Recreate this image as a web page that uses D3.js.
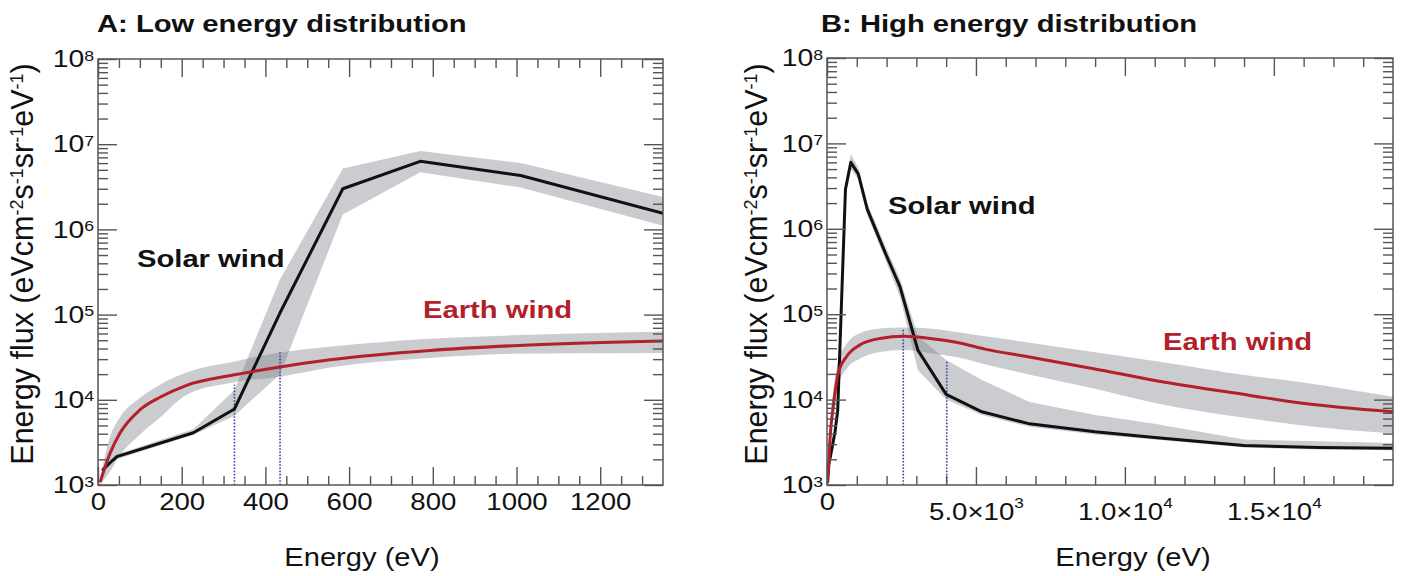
<!DOCTYPE html>
<html><head><meta charset="utf-8">
<script src="https://cdn.jsdelivr.net/npm/d3@7"></script>
<style>body{margin:0;background:#fff}svg text{font-family:"Liberation Sans",Arial,Helvetica,sans-serif}</style>
</head><body><script>
// ---------- DATA ----------
// Panel A: low energy distribution
const aSolarE  = [10, 35, 45, 228, 326, 435, 585, 770, 1010, 1350];
const aSolarV  = [1480, 1950, 2150, 4100, 7800, 1.05e5, 3.0e6, 6.3e6, 4.3e6, 1.55e6];
const aSolarLo = [1400, 1850, 2000, 3900, 6500, 2.0e4, 1.5e6, 4.7e6, 3.1e6, 1.1e6];
const aSolarHi = [1560, 2050, 2300, 4500, 1.3e4, 2.6e5, 5.2e6, 8.3e6, 6.0e6, 2.4e6];
const aEarthE  = [5, 29, 53, 100, 148, 212, 323, 435, 554, 793, 1032, 1350];
const aEarthV  = [1080, 2370, 4100, 7600, 1.07e4, 1.48e4, 1.95e4, 2.43e4, 2.95e4, 3.8e4, 4.4e4, 4.9e4];
const aEarthLo = [1000, 1450, 2250, 3900, 6200, 1.15e4, 1.6e4, 1.87e4, 2.4e4, 3.1e4, 3.5e4, 3.55e4];
const aEarthHi = [1200, 3700, 6300, 1.05e4, 1.5e4, 2.1e4, 2.8e4, 3.6e4, 4.2e4, 5.2e4, 5.8e4, 6.3e4];
const aDotE    = [326, 435];
const aDotTop  = [1.5e4, 3.7e4];
// Panel B: high energy distribution
const bSolarE  = [20, 130, 270, 360, 620, 800, 1050, 1350, 2000, 2450, 3050, 4000, 5200, 6800, 9000, 11000, 14000, 16500, 19000];
const bSolarV  = [1500, 2300, 4200, 7500, 2.9e6, 6.0e6, 4.4e6, 1.7e6, 4.8e5, 2.1e5, 3.8e4, 1.15e4, 7200, 5200, 4200, 3600, 2900, 2750, 2700];
const bSolarLo = [1400, 2100, 3800, 6500, 2.4e6, 5.0e6, 3.8e6, 1.45e6, 4.0e5, 1.6e5, 2.2e4, 1.0e4, 6600, 4800, 3900, 3400, 2750, 2600, 2550];
const bSolarHi = [1650, 2500, 4600, 8500, 3.4e6, 7.5e6, 5.2e6, 2.0e6, 5.8e5, 2.6e5, 5.6e4, 2.9e4, 1.7e4, 9400, 6600, 5200, 3400, 3250, 3100];
const bEarthE  = [20, 45, 100, 210, 380, 660, 1100, 1780, 2570, 3460, 4460, 5300, 6700, 8950, 11100, 14200, 15900, 19000];
const bEarthV  = [1050, 1300, 3400, 8300, 2.05e4, 3.2e4, 4.35e4, 5.2e4, 5.5e4, 5.2e4, 4.6e4, 3.9e4, 3.2e4, 2.3e4, 1.65e4, 1.12e4, 9100, 7200];
const bEarthLo = [950, 1150, 2600, 6000, 1.45e4, 2.3e4, 3.0e4, 3.6e4, 3.8e4, 3.5e4, 3.1e4, 2.6e4, 2.0e4, 1.35e4, 9000, 6000, 5000, 4000];
const bEarthHi = [1100, 1500, 4500, 1.2e4, 2.9e4, 4.5e4, 6.0e4, 6.8e4, 7.0e4, 6.8e4, 6.1e4, 5.5e4, 4.7e4, 3.6e4, 2.8e4, 1.9e4, 1.6e4, 1.08e4];
const bDotE    = [2560, 4020];
const bDotTop  = [6.8e4, 2.8e4];
// Ticks
const aXMajor = [0, 200, 400, 600, 800, 1000, 1200];
const aXMinor = [50,100,150,250,300,350,450,500,550,650,700,750,850,900,950,1050,1100,1150,1250,1300];
const bXMajor = [0, 5000, 10000, 15000];
const bXMinor = [1000,2000,3000,4000,6000,7000,8000,9000,11000,12000,13000,14000,16000,17000,18000];
const yMajor  = [1e3, 1e4, 1e5, 1e6, 1e7, 1e8];
// Texts
const titles = ["A: Low energy distribution", "B: High energy distribution"];
const seriesNames = ["Solar wind", "Earth wind"];
const xTitle = "Energy (eV)";

// ---------- DRAW ----------
const W = 1406, H = 576;
const svg = d3.select("body").append("svg").attr("width", W).attr("height", H);
const RED = "#b3202a", INK = "#111", AX = "#555";
const FONT = '"Liberation Sans",Arial,Helvetica,sans-serif';

function stretch(sel, sx) {
  sel.each(function () {
    const el = d3.select(this);
    const x = +el.attr("x") || 0, y = +el.attr("y") || 0;
    el.attr("transform", `translate(${x},${y}) scale(${sx},1) translate(${-x},${-y})`);
  });
}

const panels = [
  { id: "A", title: titles[0], titleX: 97, box: { l: 98, r: 663, t: 59, b: 485 }, xDomain: [0, 1350],
    xMajor: aXMajor, xMinor: aXMinor, sci: false,
    solar: { e: aSolarE, v: aSolarV, lo: aSolarLo, hi: aSolarHi },
    earth: { e: aEarthE, v: aEarthV, lo: aEarthLo, hi: aEarthHi },
    dots: { e: aDotE, top: aDotTop },
    solarLbl: [137, 267], earthLbl: [423, 318], yLblX: 33, xLblX: 362 },
  { id: "B", title: titles[1], titleX: 821, box: { l: 827, r: 1393, t: 58, b: 485 }, xDomain: [0, 19000],
    xMajor: bXMajor, xMinor: bXMinor, sci: true,
    solar: { e: bSolarE, v: bSolarV, lo: bSolarLo, hi: bSolarHi },
    earth: { e: bEarthE, v: bEarthV, lo: bEarthLo, hi: bEarthHi },
    dots: { e: bDotE, top: bDotTop },
    solarLbl: [888, 214], earthLbl: [1163, 350], yLblX: 767, xLblX: 1133 }
];

panels.forEach(p => {
  const { l, r, t, b } = p.box;
  const x = d3.scaleLinear().domain(p.xDomain).range([l, r]);
  const y = d3.scaleLog().domain([1e3, 1e8]).range([b, t]);
  const g = svg.append("g");
  const clipId = "clip" + p.id;
  svg.append("clipPath").attr("id", clipId).append("rect")
    .attr("x", l).attr("y", t).attr("width", r - l).attr("height", b - t);
  const plot = g.append("g").attr("clip-path", `url(#${clipId})`);

  const series = [
    { s: p.solar, color: INK, curve: d3.curveLinear },
    { s: p.earth, color: RED, curve: d3.curveMonotoneX }
  ].map(o => ({ ...o, rows: o.s.e.map((e, i) => ({ e, v: o.s.v[i], lo: o.s.lo[i], hi: o.s.hi[i] })) }));

  series.forEach(o => {
    plot.append("path").datum(o.rows)
      .attr("d", d3.area().x(d => x(d.e)).y0(d => y(d.lo)).y1(d => y(d.hi)).curve(o.curve))
      .attr("fill", "#80868c").attr("fill-opacity", 0.42);
  });
  p.dots.e.forEach((e, i) => {
    plot.append("line").attr("x1", x(e)).attr("x2", x(e)).attr("y1", y(1e3)).attr("y2", y(p.dots.top[i]))
      .attr("stroke", "#3344aa").attr("stroke-width", 1.6).attr("stroke-dasharray", "1.6,1.6");
  });
  series.forEach(o => {
    plot.append("path").datum(o.rows)
      .attr("d", d3.line().x(d => x(d.e)).y(d => y(d.v)).curve(o.curve))
      .attr("fill", "none").attr("stroke", o.color).attr("stroke-width", 3).attr("stroke-linejoin", "round");
  });

  // axes (inward ticks on all four sides)
  const yMinor = y.ticks().filter(v => !yMajor.includes(v));
  const style = sel => {
    sel.select(".domain").remove();
    sel.selectAll(".tick line").attr("stroke", AX).attr("stroke-width", 1.4);
    sel.attr("font-family", FONT).attr("font-size", 24);
  };
  const bx = g.append("g").attr("transform", `translate(0,${b})`)
    .call(d3.axisBottom(x).tickValues(p.xMajor).tickSize(-18).tickPadding(8).tickFormat(d => p.sci ? "" : String(d))).call(style);
  g.append("g").attr("transform", `translate(0,${b})`)
    .call(d3.axisBottom(x).tickValues(p.xMinor).tickSize(-9).tickFormat("")).call(style);
  g.append("g").attr("transform", `translate(0,${t})`)
    .call(d3.axisTop(x).tickValues(p.xMajor).tickSize(-18).tickFormat("")).call(style);
  g.append("g").attr("transform", `translate(0,${t})`)
    .call(d3.axisTop(x).tickValues(p.xMinor).tickSize(-9).tickFormat("")).call(style);
  const ly = g.append("g").attr("transform", `translate(${l},0)`)
    .call(d3.axisLeft(y).tickValues(yMajor).tickSize(-19).tickPadding(4).tickFormat("")).call(style);
  g.append("g").attr("transform", `translate(${l},0)`)
    .call(d3.axisLeft(y).tickValues(yMinor).tickSize(-10).tickFormat("")).call(style);
  g.append("g").attr("transform", `translate(${r},0)`)
    .call(d3.axisRight(y).tickValues(yMajor).tickSize(-19).tickFormat("")).call(style);
  g.append("g").attr("transform", `translate(${r},0)`)
    .call(d3.axisRight(y).tickValues(yMinor).tickSize(-10).tickFormat("")).call(style);

  ly.selectAll(".tick text").each(function (d) {
    const tx = d3.select(this).attr("fill", "#111");
    tx.append("tspan").text("10");
    tx.append("tspan").attr("font-size", 15).attr("dy", -6.5).text(Math.round(Math.log10(d)));
  });
  stretch(ly.selectAll(".tick text"), 1.18);

  bx.selectAll(".tick text").attr("fill", "#111").each(function (d) {
    if (!p.sci) return;
    const tx = d3.select(this);
    if (d === 0) { tx.append("tspan").text("0"); return; }
    const ex = Math.floor(Math.log10(d)), m = d / Math.pow(10, ex);
    tx.append("tspan").attr("dy", 27).text(m.toFixed(1) + "\u00d710");
    tx.append("tspan").attr("font-size", 15).attr("dy", -12).text(ex);
  });
  stretch(bx.selectAll(".tick text"), 1.15);

  // frame
  g.append("rect").attr("x", l).attr("y", t).attr("width", r - l).attr("height", b - t)
    .attr("fill", "none").attr("stroke", AX).attr("stroke-width", 1.5);

  // titles & labels
  const tt = g.append("text").attr("x", p.titleX).attr("y", 32).attr("font-size", 23).attr("font-weight", "bold")
    .attr("fill", "#111").text(p.title);
  stretch(tt, 1.27);
  const sl = g.append("text").attr("x", p.solarLbl[0]).attr("y", p.solarLbl[1]).attr("font-size", 23)
    .attr("font-weight", "bold").attr("fill", "#111").text(seriesNames[0]);
  stretch(sl, 1.27);
  const el = g.append("text").attr("x", p.earthLbl[0]).attr("y", p.earthLbl[1]).attr("font-size", 23)
    .attr("font-weight", "bold").attr("fill", RED).text(seriesNames[1]);
  stretch(el, 1.27);
  const xl = g.append("text").attr("x", p.xLblX).attr("y", 566).attr("font-size", 26)
    .attr("text-anchor", "middle").attr("fill", "#111").text(xTitle);
  stretch(xl, 1.12);

  const yl = g.append("text").attr("transform", `translate(${p.yLblX},264) rotate(-90)`)
    .attr("font-size", 30.5).attr("text-anchor", "middle").attr("fill", "#111");
  const parts = [["Energy flux (eVcm", 0], ["-2", 1], ["s", 0], ["-1", 1], ["sr", 0], ["-1", 1], ["eV", 0], ["-1", 1], [")", 0]];
  let up = false;
  parts.forEach(([s, sup]) => {
    const ts = yl.append("tspan").text(s);
    if (sup) { ts.attr("font-size", 18).attr("dy", -10); up = true; }
    else if (up) { ts.attr("dy", 10); up = false; }
  });
});
</script></body></html>
